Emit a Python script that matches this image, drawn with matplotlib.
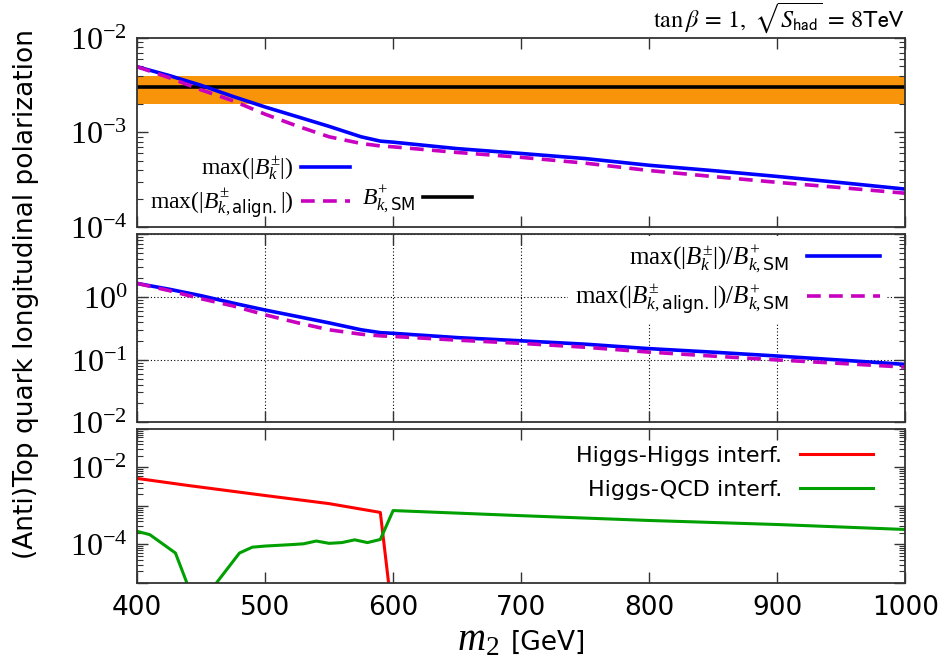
import numpy as np
import matplotlib
matplotlib.use('Agg')
import matplotlib.pyplot as plt
from matplotlib.lines import Line2D
from matplotlib.ticker import FixedLocator, FuncFormatter, LogLocator, NullFormatter

plt.rcParams['font.family'] = 'DejaVu Sans'
plt.rcParams['mathtext.fontset'] = 'custom'
plt.rcParams['mathtext.rm'] = 'Liberation Serif'
plt.rcParams['mathtext.it'] = 'Liberation Serif:italic'
plt.rcParams['mathtext.bf'] = 'Liberation Serif:bold'
plt.rcParams['mathtext.sf'] = 'DejaVu Sans'

# heavy Higgs mass m2 [GeV]
m2 = [400, 425, 450, 475, 500, 525, 550, 575, 590, 600,
      650, 700, 750, 800, 850, 900, 950, 1000]
# max(|B_k^pm|), general scan
b_max = [4.95e-3, 4.0e-3, 3.15e-3, 2.4e-3, 1.86e-3, 1.47e-3, 1.16e-3, 9.0e-4, 8.1e-4, 7.9e-4,
         6.75e-4, 6.0e-4, 5.3e-4, 4.5e-4, 3.95e-4, 3.43e-4, 2.95e-4, 2.52e-4]
# max(|B_k,align.^pm|), alignment limit
b_align = [4.95e-3, 3.8e-3, 2.82e-3, 2.16e-3, 1.56e-3, 1.17e-3, 9.0e-4, 7.65e-4, 7.2e-4, 7.05e-4,
           6.15e-4, 5.46e-4, 4.74e-4, 3.96e-4, 3.42e-4, 2.97e-4, 2.61e-4, 2.28e-4]

# SM value and its band
b_sm = 3.0e-3
b_sm_lo = 2.0e-3
b_sm_hi = 4.0e-3

# interference contributions
m2_hh = [400, 440, 500, 550, 590, 600]
hh_interf = [5.2e-3, 3.4e-3, 1.87e-3, 1.15e-3, 6.8e-4, 1.0e-6]
m2_hq = [400, 410, 430, 445, 455, 480, 490, 500, 520, 530, 540,
         550, 560, 570, 580, 590, 600, 700, 800, 900, 1000]
hq_interf = [2.2e-4, 1.8e-4, 6.0e-5, 3.0e-6, 5.0e-6, 6.0e-5, 8.5e-5, 9.1e-5, 9.9e-5, 1.04e-4, 1.23e-4,
             1.07e-4, 1.12e-4, 1.32e-4, 1.12e-4, 1.35e-4, 7.6e-4, 5.6e-4, 4.2e-4, 3.3e-4, 2.45e-4]

x_ticks = [400, 500, 600, 700, 800, 900, 1000]

BLUE = '#0000ff'
MAGENTA = '#c800c0'
ORANGE = '#f8940a'
RED = '#ff0000'
GREEN = '#00a000'
DASH = (3.8, 2.3)


def style_axis(ax, ylim, labelled):
    ax.set_xlim(400, 1000)
    ax.set_yscale('log')
    ax.set_ylim(*ylim)
    lo, hi = int(round(np.log10(ylim[0]))), int(round(np.log10(ylim[1])))
    ax.xaxis.set_major_locator(FixedLocator(x_ticks))
    ax.yaxis.set_major_locator(FixedLocator([10.0 ** e for e in range(lo, hi + 1)]))

    def fmt(v, pos):
        e = int(round(np.log10(v)))
        return r'$10^{%d}$' % e if e in labelled else ''
    ax.yaxis.set_major_formatter(FuncFormatter(fmt))
    ax.yaxis.set_minor_locator(LogLocator(base=10, subs=np.arange(2, 10), numticks=50))
    ax.yaxis.set_minor_formatter(NullFormatter())
    ax.tick_params(which='both', direction='in', top=True, right=True, color='#333333')
    ax.tick_params(which='major', length=8, width=1.0)
    ax.tick_params(which='minor', length=4, width=0.8)
    ax.tick_params(axis='y', labelsize=23, pad=7)
    ax.tick_params(axis='x', labelsize=19, pad=9)
    for s in ax.spines.values():
        s.set_linewidth(1.3)
        s.set_color('#333333')


fig = plt.figure(figsize=(9.45, 6.64), dpi=100)
ax1 = fig.add_axes([0.145, 0.658, 0.813, 0.285])
ax2 = fig.add_axes([0.145, 0.364, 0.813, 0.283])
ax3 = fig.add_axes([0.145, 0.122, 0.813, 0.232])

# top: absolute polarization
ax1.axhspan(b_sm_lo, b_sm_hi, color=ORANGE, lw=0)
l_sm, = ax1.plot([400, 1000], [b_sm, b_sm], color='black', lw=2.6, label=r'$B^{+}_{k,\mathsf{SM}}$')
l_max, = ax1.plot(m2, b_max, color=BLUE, lw=2.6, label=r'$\max(|B^{\pm}_{k}|)$')
l_al, = ax1.plot(m2, b_align, color=MAGENTA, lw=2.6, dashes=DASH,
                 label=r'$\max(|B^{\pm}_{k,\mathsf{align.}}|)$')
style_axis(ax1, (1e-4, 1e-2), [-2, -3, -4])
ax1.tick_params(labelbottom=False)
blank = Line2D([], [], color='none')
ax1.legend([l_max, l_al, blank, l_sm], [l_max.get_label(), l_al.get_label(), '', l_sm.get_label()],
           ncol=2, markerfirst=False, frameon=False, fontsize=17, loc='lower left',
           bbox_to_anchor=(0.017, 0.03), borderpad=0, borderaxespad=0,
           handlelength=2.1, handletextpad=0.3, columnspacing=0.5, labelspacing=0.15)

# middle: ratio to the SM value
ax2.plot(m2, np.array(b_max) / b_sm, color=BLUE, lw=2.6,
         label=r'$\max(|B^{\pm}_{k}|)/B^{+}_{k,\mathsf{SM}}$')
ax2.plot(m2, np.array(b_align) / b_sm, color=MAGENTA, lw=2.6, dashes=DASH,
         label=r'$\max(|B^{\pm}_{k,\mathsf{align.}}|)/B^{+}_{k,\mathsf{SM}}$')
style_axis(ax2, (1e-2, 1e1), [0, -1, -2])
ax2.tick_params(labelbottom=False)
ax2.set_axisbelow(True)
ax2.grid(True, which='major', linestyle=(0, (1, 2)), color='black', lw=0.8)
ax2.legend(loc='upper right', bbox_to_anchor=(0.978, 1.0), fontsize=18, markerfirst=False,
           frameon=True, fancybox=False, framealpha=1, facecolor='white', edgecolor='none',
           borderpad=0.3, borderaxespad=0.05, handlelength=2.9, handletextpad=0.7,
           labelspacing=0.25)

# bottom: interference terms
ax3.plot(m2_hh, hh_interf, color=RED, lw=2.2, label='Higgs-Higgs interf.')
ax3.plot(m2_hq, hq_interf, color=GREEN, lw=2.2, label='Higgs-QCD interf.')
style_axis(ax3, (1e-5, 1e-1), [-2, -4])
ax3.legend(loc='upper right', bbox_to_anchor=(0.958, 0.89), fontsize=16, markerfirst=False,
           frameon=False, borderpad=0, borderaxespad=0, handlelength=3.3, handletextpad=0.8,
           labelspacing=0.62)

fig.text(0.958, 1 - 27 / 664,
         r'$\tan\beta\,=\,1,\ \sqrt{S_{\mathrm{\mathsf{had}}}}\,=\,8\mathrm{\mathsf{TeV}}$',
         ha='right', va='baseline', fontsize=17.5, math_fontfamily='stix')
fig.text(26 / 945, 0.557, '(Anti)Top quark longitudinal polarization', rotation=90,
         ha='center', va='center', fontsize=19)
fig.text(457 / 945, 1 - 650 / 664, r'$m_2$', ha='left', va='baseline', fontsize=28)
fig.text(511 / 945, 1 - 650 / 664, '[GeV]', ha='left', va='baseline', fontsize=19)

fig.savefig('out.png', dpi=100, facecolor='white')
